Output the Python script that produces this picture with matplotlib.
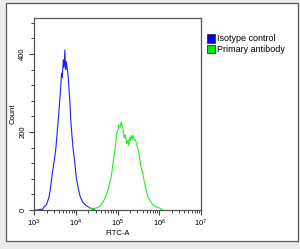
import numpy as np
import matplotlib
matplotlib.use("Agg")
import matplotlib.pyplot as plt
from matplotlib.patches import Rectangle, Patch
from matplotlib.ticker import LogLocator, MultipleLocator, FixedLocator

# log10(FITC-A) and count
iso_log = [3.00, 3.10, 3.15, 3.20, 3.24, 3.30, 3.36, 3.40, 3.44, 3.48, 3.52, 3.56,
           3.60, 3.63, 3.66, 3.68, 3.70, 3.72, 3.74, 3.75, 3.76, 3.77, 3.78, 3.80,
           3.82, 3.84, 3.86, 3.88, 3.91, 3.94, 3.98, 4.01, 4.06, 4.11, 4.17, 4.23,
           4.30, 4.35, 4.40, 4.45]
iso_cnt = [0, 0, 2, 1, 8, 14, 33, 60, 95, 122, 154, 205,
           256, 300, 351, 340, 385, 365, 410, 372, 360, 380, 375, 360,
           340, 308, 275, 231, 190, 154, 118, 85, 55, 33, 20, 13,
           8, 5, 2, 0]

prim_log = [4.33, 4.40, 4.49, 4.55, 4.60, 4.65, 4.70, 4.74, 4.77, 4.81, 4.85, 4.89,
            4.93, 4.96, 4.98, 5.01, 5.03, 5.06, 5.09, 5.11, 5.13, 5.16, 5.19, 5.22,
            5.25, 5.27, 5.29, 5.31, 5.33, 5.35, 5.37, 5.40, 5.43, 5.45, 5.48, 5.51,
            5.54, 5.57, 5.61, 5.65, 5.69, 5.73, 5.79, 5.85, 5.92, 6.01, 6.08]
prim_cnt = [5, 3, 5, 8, 12, 20, 30, 42, 51, 70, 85, 118,
            146, 175, 197, 205, 218, 212, 226, 215, 210, 185, 192, 170,
            179, 165, 187, 178, 190, 182, 192, 178, 180, 172, 160, 146,
            125, 108, 90, 69, 50, 33, 22, 13, 8, 5, 0]

x_ticks = [1e3, 1e4, 1e5, 1e6, 1e7]
x_labels = ["$10^3$", "$10^4$", "$10^5$", "$10^6$", "$10^7$"]
y_ticks = [0, 200, 400]

plt.rcParams["font.family"] = ["Liberation Sans", "DejaVu Sans"]
plt.rcParams["mathtext.fontset"] = "custom"
plt.rcParams["mathtext.rm"] = "Liberation Sans"
plt.rcParams["mathtext.it"] = "Liberation Sans"

fig = plt.figure(figsize=(3.0, 2.49), dpi=100, facecolor="#ececec")
fig.patches.append(Rectangle((6 / 300, 1 - 241 / 249), 292 / 300, 238 / 249,
                             transform=fig.transFigure, facecolor="white",
                             edgecolor="#5a5a5a", linewidth=0.9, zorder=-5))

ax = fig.add_axes([34 / 300, 1 - 210 / 249, 167 / 300, 192 / 249])
ax.patch.set_alpha(0)
ax.plot(10 ** np.array(iso_log), iso_cnt, color="#2020f0", linewidth=0.8)
ax.plot(10 ** np.array(prim_log), prim_cnt, color="#22ee22", linewidth=0.8)

ax.set_xscale("log")
ax.set_xlim(1e3, 1e7)
ax.set_ylim(0, 492)
ax.xaxis.set_major_locator(FixedLocator(x_ticks))
ax.set_xticklabels(x_labels)
ax.xaxis.set_minor_locator(LogLocator(base=10, subs=np.arange(2, 10)))
ax.xaxis.set_minor_formatter(plt.NullFormatter())
ax.yaxis.set_major_locator(FixedLocator(y_ticks))
ax.yaxis.set_minor_locator(MultipleLocator(40))
ax.set_yticklabels([str(v) for v in y_ticks], rotation=90, va="center")

ax.tick_params(which="major", direction="out", length=3.5, width=0.8,
               labelsize=5.5, color="#444444", pad=2)
ax.tick_params(which="minor", direction="out", length=2.2, width=0.7,
               color="#444444")
for s in ax.spines.values():
    s.set_color("#555555")
    s.set_linewidth(0.9)

ax.set_xlabel("FITC-A", fontsize=5.5, labelpad=1)
ax.set_ylabel("Count", fontsize=5.5, labelpad=2)

handles = [Patch(facecolor="#0000ff", edgecolor="#333333", linewidth=0.6),
           Patch(facecolor="#00ee00", edgecolor="#333333", linewidth=0.6)]
fig.legend(handles, ["Isotype control", "Primary antibody"],
           loc="upper left", bbox_to_anchor=(207 / 300, 1 - 34 / 249),
           frameon=False, fontsize=6.5, handlelength=0.85, handleheight=1.1,
           handletextpad=0.3, labelspacing=0.15, borderpad=0, borderaxespad=0)

fig.savefig("out.png", dpi=100, facecolor=fig.get_facecolor())
